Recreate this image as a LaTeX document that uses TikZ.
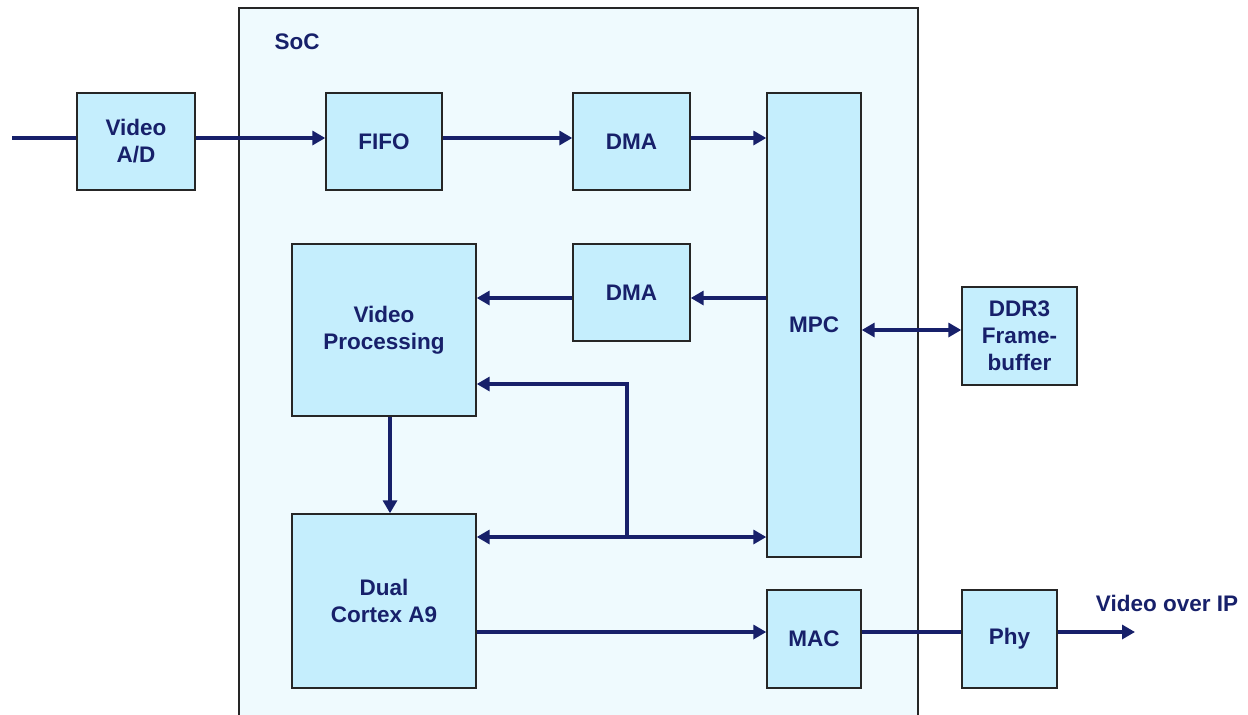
\documentclass[tikz,border=0pt]{standalone}
\usepackage{fontspec}
\setmainfont{Liberation Sans}
\usepackage{xcolor}
\usetikzlibrary{arrows.meta,calc}
\definecolor{navy}{HTML}{17206A}
\definecolor{boxfill}{HTML}{C5EEFD}
\definecolor{socfill}{HTML}{EFFAFE}
\tikzset{
    blk/.style={draw=black!85, line width=1.4pt, fill=boxfill, align=center, inner sep=0pt,
      text=navy, font=\fontsize{22.5}{27}\selectfont\bfseries},
    lbl/.style={text=navy, font=\fontsize{22.5}{27}\selectfont\bfseries, inner sep=0pt},
    bus/.style={draw=navy, line width=4.2pt},
    tip/.tip={Triangle[length=13pt,width=14pt]}}

\begin{document}
\begin{tikzpicture}[x=1pt,y=-1pt]
\useasboundingbox (0,0) rectangle (1248,715);
% SoC frame, open at the bottom
\fill[socfill] (239,8) rectangle (918,720);
\draw[line width=1.2pt, black!85] (239,720) -- (239,8) -- (918,8) -- (918,720);
\node[lbl] (soc) at (297,42) {SoC};

\node[blk, minimum width=118, minimum height=97] (ad) at (136,141.5) {Video\\A/D};
\node[blk, minimum width=116, minimum height=97] (fifo) at (384,141.5) {FIFO};
\node[blk, minimum width=117, minimum height=97] (dmai) at (631.5,141.5) {DMA};
\node[blk, minimum width=94, minimum height=464] (mpc) at (814,325) {MPC};
\node[blk, minimum width=117, minimum height=97] (dmao) at (631.5,292.5) {DMA};
\node[blk, minimum width=184, minimum height=172] (vp) at (384,330) {Video\\Processing};
\node[blk, minimum width=184, minimum height=174] (cpu) at (384,601) {Dual\\Cortex A9};
\node[blk, minimum width=94, minimum height=98] (mac) at (814,639) {MAC};
\node[blk, minimum width=115, minimum height=98] (ddr) at (1019.5,336) {DDR3\\Frame-\\buffer};
\node[blk, minimum width=95, minimum height=98] (phy) at (1009.5,639) {Phy};
\node[lbl] (vip) at (1167,603) {Video over IP};

\coordinate (in) at (12,138);
\coordinate (out) at (1135,632);
\coordinate (jn) at (627,537);
\coordinate (jt) at (627,384);

% data path
\draw[bus] (in) -- (in -| ad.west);
\draw[bus, -tip] (in -| ad.east) -- (in -| fifo.west);
\draw[bus, -tip] (in -| fifo.east) -- (in -| dmai.west);
\draw[bus, -tip] (in -| dmai.east) -- (in -| mpc.west);
\draw[bus, -tip] ([yshift=-5.5]mpc.west |- dmao) -- ([yshift=-5.5]dmao.east);
\draw[bus, -tip] ([yshift=-5.5]dmao.west) -- ([yshift=-5.5]dmao.west -| vp.east);
\draw[bus, tip-tip] ([yshift=6]mpc.east |- ddr) -- ([yshift=6]ddr.west);
\draw[bus, -tip] ([xshift=6]vp.south) -- ([xshift=6]cpu.north);
% shared bus
\draw[bus, -tip] (jn) -- (jt) -- (jt -| vp.east);
\draw[bus, tip-tip] (jn -| cpu.east) -- (jn -| mpc.west);
\draw[bus, -tip] (out -| cpu.east) -- (out -| mac.west);
\draw[bus] (out -| mac.east) -- (out -| phy.west);
\draw[bus, -tip] (out -| phy.east) -- (out);
\end{tikzpicture}
\end{document}
